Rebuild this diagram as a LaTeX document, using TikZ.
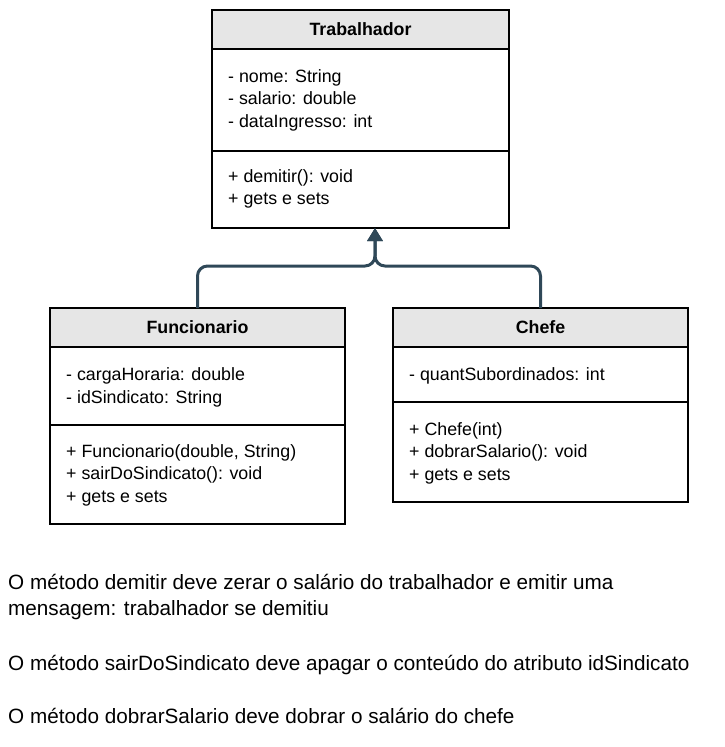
\documentclass[tikz,border=0pt]{standalone}
\usepackage{fontspec}
\setmainfont{Liberation Sans}
\usetikzlibrary{arrows.meta,positioning}
\definecolor{headgray}{RGB}{230,230,230}
\definecolor{arrowslate}{RGB}{47,72,88}
\tikzset{
  classhead/.style={draw, line width=1.3pt, fill=headgray, inner sep=0pt, outer sep=0pt,
    anchor=north west, minimum height=39pt, font=\fontsize{17.8}{21}\selectfont\bfseries},
  classpart/.style={draw, line width=1.3pt, inner sep=0pt, outer sep=0pt},
  member/.style={anchor=base west, inner sep=0pt, font=\fontsize{17.8}{21}\selectfont},
  note/.style={anchor=base west, inner sep=0pt, font=\fontsize{20.7}{25}\selectfont},
  inherit/.style={draw=arrowslate, line width=3pt, rounded corners=10pt,
    -{Triangle[width=15pt,length=13pt]}}
}
\begin{document}
\begin{tikzpicture}[x=1pt,y=-1pt]
  \useasboundingbox (0,0) rectangle (724,747);
  % Trabalhador
  \node[classhead, minimum width=297pt] (trab) at (212,10) {Trabalhador};
  \node[classpart, minimum width=297pt, minimum height=102pt, below=0pt of trab] (trabattr) {};
  \node[classpart, minimum width=297pt, minimum height=77pt, below=0pt of trabattr] (trabmeth) {};
  \foreach \txt [count=\i] in {- nome: String, - salario: double, - dataIngresso: int}
    \node[member] (trabattr\i) at (228,{82+22.5*(\i-1)}) {\txt};
  \foreach \txt [count=\i] in {+ demitir(): void, + gets e sets}
    \node[member] (trabmeth\i) at (228,{182+22.5*(\i-1)}) {\txt};
  % Funcionario
  \node[classhead, minimum width=295pt] (func) at (50,308) {Funcionario};
  \node[classpart, minimum width=295pt, minimum height=78pt, below=0pt of func] (funcattr) {};
  \node[classpart, minimum width=295pt, minimum height=99pt, below=0pt of funcattr] (funcmeth) {};
  \foreach \txt [count=\i] in {- cargaHoraria: double, - idSindicato: String}
    \node[member] (funcattr\i) at (66,{380+23*(\i-1)}) {\txt};
  \foreach \txt [count=\i] in {{+ Funcionario(double, String)}, + sairDoSindicato(): void, + gets e sets}
    \node[member] (funcmeth\i) at (66,{457+22.5*(\i-1)}) {\txt};
  % Chefe
  \node[classhead, minimum width=295pt] (chefe) at (393,308) {Chefe};
  \node[classpart, minimum width=295pt, minimum height=55pt, below=0pt of chefe] (chefeattr) {};
  \node[classpart, minimum width=295pt, minimum height=100pt, below=0pt of chefeattr] (chefemeth) {};
  \node[member] (chefeattr1) at (409,380) {- quantSubordinados: int};
  \foreach \txt [count=\i] in {+ Chefe(int), + dobrarSalario(): void, + gets e sets}
    \node[member] (chefemeth\i) at (409,{435+22.5*(\i-1)}) {\txt};
  % heranca
  \coordinate (join) at (375,266);
  \draw[inherit] (func.north) |- (join) -- (join |- trabmeth.south);
  \draw[inherit] (chefe.north) |- (join) -- (join |- trabmeth.south);
  % textos
  \node[note] (nota1) at (8,589) {O método demitir deve zerar o salário do trabalhador e emitir uma};
  \node[note] (nota2) at (8,615) {mensagem: trabalhador se demitiu};
  \node[note] (nota3) at (8,670) {O método sairDoSindicato deve apagar o conteúdo do atributo idSindicato};
  \node[note] (nota4) at (8,723) {O método dobrarSalario deve dobrar o salário do chefe};
\end{tikzpicture}
\end{document}
